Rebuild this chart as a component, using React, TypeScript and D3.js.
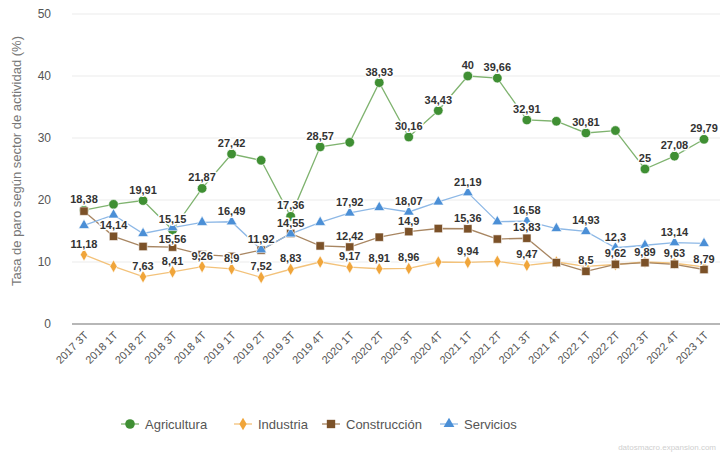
import { useEffect, useRef } from 'react'
import * as d3 from 'd3'

const categories = [
  '2017 3T', '2018 1T', '2018 2T', '2018 3T', '2018 4T', '2019 1T', '2019 2T', '2019 3T',
  '2019 4T', '2020 1T', '2020 2T', '2020 3T', '2020 4T', '2021 1T', '2021 2T', '2021 3T',
  '2021 4T', '2022 1T', '2022 2T', '2022 3T', '2022 4T', '2023 1T'
]

const agricultura = [18.38, 19.3, 19.91, 15.15, 21.87, 27.42, 26.4, 17.36, 28.57, 29.3, 38.93, 30.16, 34.43, 40, 39.66, 32.91, 32.7, 30.81, 31.2, 25, 27.08, 29.79]
const industria = [11.18, 9.3, 7.63, 8.41, 9.26, 8.9, 7.52, 8.83, 10.0, 9.17, 8.91, 8.96, 10.0, 9.94, 10.1, 9.47, 10.0, 9.3, 9.6, 10.0, 9.8, 9.2]
const construccion = [18.2, 14.14, 12.5, 12.4, 11.2, 10.9, 11.92, 14.6, 12.6, 12.42, 14.0, 14.9, 15.4, 15.36, 13.7, 13.83, 9.9, 8.5, 9.62, 9.89, 9.63, 8.79]
const servicios = [15.9, 17.6, 14.6, 15.56, 16.4, 16.49, 12.0, 14.55, 16.4, 17.92, 18.8, 18.07, 19.7, 21.19, 16.5, 16.58, 15.4, 14.93, 12.3, 12.7, 13.14, 13.0]

// which points keep their value label (the others were hidden by overlap in the original)
const agriLabels = [0, 2, 3, 4, 5, 7, 8, 10, 11, 12, 13, 14, 15, 17, 19, 20, 21]
const induLabels = [0, 2, 3, 4, 5, 6, 7, 9, 10, 11, 13, 15]
const consLabels = [1, 6, 9, 11, 13, 15, 17, 18, 19, 20, 21]
const servLabels = [3, 5, 7, 9, 11, 13, 15, 17, 18, 20]
// labels pushed under their point
const servBelow = [3]

const yTicks = [0, 10, 20, 30, 40, 50]

type Series = {
  name: string; values: number[]; labels: number[]; below: number[]
  line: string; fill: string; symbol: d3.SymbolType; size: number
}

const series: Series[] = [
  { name: 'Agricultura', values: agricultura, labels: agriLabels, below: [], line: '#7fb36f', fill: '#3f8f33', symbol: d3.symbolCircle, size: 72 },
  { name: 'Industria', values: industria, labels: induLabels, below: [], line: '#f3c27a', fill: '#f0a53a', symbol: d3.symbolDiamond, size: 46 },
  { name: 'Construcción', values: construccion, labels: consLabels, below: [], line: '#a88662', fill: '#7b5128', symbol: d3.symbolSquare, size: 70 },
  { name: 'Servicios', values: servicios, labels: servLabels, below: servBelow, line: '#8db8e6', fill: '#4b8fd6', symbol: d3.symbolTriangle, size: 50 }
]

const W = 720
const H = 455
const FONT = 'Liberation Sans, Arial, sans-serif'

const fmt = (v: number) => String(+v.toFixed(2)).replace('.', ',')

export default function App() {
  const ref = useRef<SVGSVGElement | null>(null)

  useEffect(() => {
    if (!ref.current) return
    const svg = d3.select(ref.current)
    svg.selectAll('*').remove()

    const x = d3.scalePoint<string>().domain(categories).range([84, 704])
    const y = d3.scaleLinear().domain([0, 50]).range([324, 14])

    // grid
    svg.append('g')
      .selectAll('line')
      .data(yTicks.filter((t) => t > 0))
      .join('line')
      .attr('x1', 72)
      .attr('x2', W)
      .attr('y1', (d) => y(d))
      .attr('y2', (d) => y(d))
      .attr('stroke', '#ebebeb')
      .attr('stroke-width', 1.2)

    svg.append('line')
      .attr('x1', 72).attr('x2', W)
      .attr('y1', y(0)).attr('y2', y(0))
      .attr('stroke', '#707070')
      .attr('stroke-width', 1.2)

    // y tick labels
    svg.append('g')
      .selectAll('text')
      .data(yTicks)
      .join('text')
      .attr('x', 51)
      .attr('y', (d) => y(d))
      .attr('dy', '0.35em')
      .attr('text-anchor', 'end')
      .attr('font-family', FONT)
      .attr('font-size', 12)
      .attr('fill', '#555')
      .text((d) => d)

    // y title
    svg.append('text')
      .attr('transform', `translate(21,${y(25) - 8}) rotate(-90)`)
      .attr('text-anchor', 'middle')
      .attr('font-family', FONT)
      .attr('font-size', 13)
      .attr('fill', '#777')
      .text('Tasa de paro según sector de actividad (%)')

    // x labels
    svg.append('g')
      .selectAll('text')
      .data(categories)
      .join('text')
      .attr('transform', (d) => `translate(${(x(d) as number) + 5},${y(0) + 12}) rotate(-45)`)
      .attr('text-anchor', 'end')
      .attr('font-family', FONT)
      .attr('font-size', 11)
      .attr('fill', '#555')
      .text((d) => d)

    const line = d3.line<number>()
      .x((_, i) => x(categories[i]) as number)
      .y((d) => y(d))

    // lines
    series.forEach((s) => {
      svg.append('path')
        .attr('d', line(s.values) as string)
        .attr('fill', 'none')
        .attr('stroke', s.line)
        .attr('stroke-width', 1.3)
    })

    // markers
    series.forEach((s) => {
      svg.append('g')
        .selectAll('path')
        .data(s.values)
        .join('path')
        .attr('transform', (d, i) => `translate(${x(categories[i])},${y(d)})`)
        .attr('d', d3.symbol().type(s.symbol).size(s.size) as any)
        .attr('fill', s.fill)
        .attr('stroke', '#fff')
        .attr('stroke-width', 0.6)
    })

    // value labels
    series.forEach((s) => {
      svg.append('g')
        .selectAll('text')
        .data(s.labels)
        .join('text')
        .attr('x', (i) => x(categories[i]) as number)
        .attr('y', (i) => y(s.values[i]) + (s.below.includes(i) ? 15 : -7))
        .attr('text-anchor', 'middle')
        .attr('font-family', FONT)
        .attr('font-size', 11)
        .attr('font-weight', 'bold')
        .attr('fill', '#333')
        .attr('stroke', '#fff')
        .attr('stroke-width', 3)
        .attr('stroke-linejoin', 'round')
        .attr('paint-order', 'stroke')
        .text((i) => fmt(s.values[i]))
    })

    // legend
    const legendX = [130, 243, 331, 449]
    const lg = svg.append('g').attr('transform', 'translate(0,424)')
    series.forEach((s, i) => {
      const gx = legendX[i]
      lg.append('line')
        .attr('x1', gx - 9).attr('x2', gx + 9)
        .attr('stroke', s.line).attr('stroke-width', 1.3)
      lg.append('path')
        .attr('transform', `translate(${gx},0)`)
        .attr('d', d3.symbol().type(s.symbol).size(s.size) as any)
        .attr('fill', s.fill)
      lg.append('text')
        .attr('x', gx + 15)
        .attr('dy', '0.35em')
        .attr('font-family', FONT)
        .attr('font-size', 13)
        .attr('fill', '#555')
        .text(s.name)
    })

    svg.append('text')
      .attr('x', 716)
      .attr('y', 450)
      .attr('text-anchor', 'end')
      .attr('font-family', FONT)
      .attr('font-size', 8)
      .attr('fill', '#cfcfcf')
      .text('datosmacro.expansion.com')
  }, [])

  return (
    <svg
      ref={ref}
      width={W}
      height={H}
      style={{ position: 'absolute', left: 0, top: 0, background: '#fff' }}
    />
  )
}
